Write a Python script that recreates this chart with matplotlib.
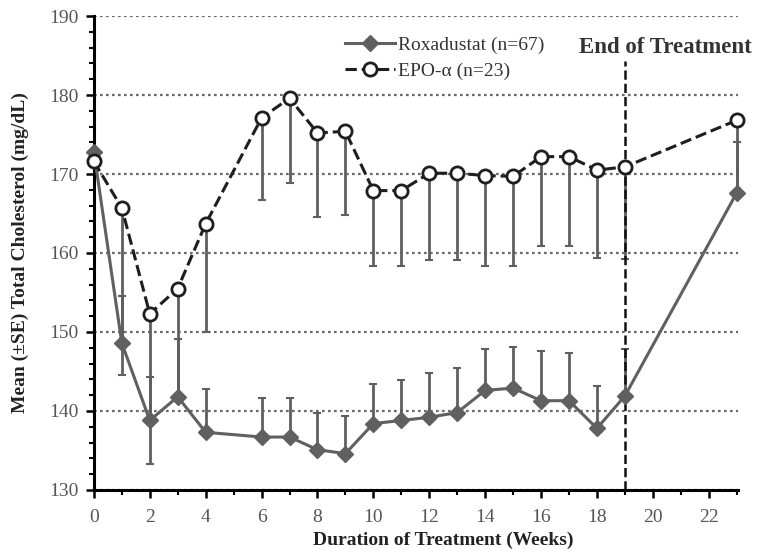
import numpy as np
import matplotlib
matplotlib.use("Agg")
import matplotlib.pyplot as plt
from matplotlib.ticker import MultipleLocator

# =========================
# Data
# =========================
weeks = [0, 1, 2, 3, 4, 6, 7, 8, 9, 10, 11, 12, 13, 14, 15, 16, 17, 18, 19, 23]

roxa_mean = [172.8, 148.6, 138.8, 141.8, 137.3, 136.7, 136.7, 135.1, 134.6, 138.4,
             138.8, 139.2, 139.8, 142.6, 142.9, 141.3, 141.3, 137.8, 141.9, 167.6]
roxa_upper = [172.8, 154.6, 144.3, 149.1, 142.8, 141.7, 141.7, 139.8, 139.4, 143.4,
              143.9, 144.8, 145.5, 147.8, 148.1, 147.6, 147.4, 143.2, 147.8, 174.0]

epo_mean = [171.6, 165.7, 152.3, 155.5, 163.7, 177.1, 179.6, 175.2, 175.4, 167.9,
            167.9, 170.1, 170.1, 169.8, 169.7, 172.2, 172.2, 170.5, 170.9, 176.8]
epo_lower = [171.6, 144.5, 133.3, 141.5, 150.0, 166.7, 168.9, 164.5, 164.8, 158.3,
             158.3, 159.1, 159.1, 158.3, 158.3, 160.9, 160.9, 159.4, 159.3, 167.0]

end_week = 19

# =========================
# Plot
# =========================
plt.rcParams['font.family'] = ['Liberation Serif', 'DejaVu Serif']

fig = plt.figure(figsize=(7.57, 5.53), dpi=100)
ax = fig.add_axes([0.124, 0.114, 0.851, 0.857])

roxa_mean = np.array(roxa_mean)
epo_mean = np.array(epo_mean)
roxa_err = [np.zeros_like(roxa_mean), np.array(roxa_upper) - roxa_mean]
epo_err = [epo_mean - np.array(epo_lower), np.zeros_like(epo_mean)]

bar_col = "#5f5f5f"

ax.errorbar(weeks, epo_mean, yerr=epo_err, fmt='none', ecolor=bar_col,
            elinewidth=2, capsize=3, capthick=1.5, zorder=2, clip_on=False)
ax.errorbar(weeks, roxa_mean, yerr=roxa_err, fmt='none', ecolor=bar_col,
            elinewidth=2, capsize=3, capthick=1.5, zorder=2, clip_on=False)

ax.plot(weeks, roxa_mean, '-D', color="#606060", lw=2.2, ms=8.5,
        label="Roxadustat (n=67)", zorder=4, clip_on=False)
ax.plot(weeks, epo_mean, '--o', color="#1e1e1e", lw=2.2, ms=9.5,
        mfc="white", mec="#1e1e1e", mew=2,
        label="EPO-\u03b1 (n=23)", zorder=5, clip_on=False)

# end of treatment marker
ax.plot([end_week, end_week], [130, 184.3], '--', color="#111111", lw=1.8, zorder=3)
ax.text(20.45, 186.0, "End of Treatment", ha='center', va='center',
        fontsize=16.5, fontweight='bold', color="#333333")

ax.set_xlim(0, 23.05)
ax.set_ylim(130, 190)
ax.xaxis.set_major_locator(MultipleLocator(2))
ax.xaxis.set_minor_locator(MultipleLocator(1))
ax.yaxis.set_major_locator(MultipleLocator(10))
ax.yaxis.set_minor_locator(MultipleLocator(2))

ax.grid(axis='y', which='major', linestyle=(0, (1.2, 1.5)), color="#6a6a6a", lw=1.6)
ax.set_axisbelow(True)

for s in ['top', 'right']:
    ax.spines[s].set_visible(False)
for s in ['left', 'bottom']:
    ax.spines[s].set_linewidth(2.2)
    ax.spines[s].set_color("black")

ax.tick_params(which='major', direction='out', length=6, width=1.8,
               labelsize=14, labelcolor="#555555", pad=5)
ax.tick_params(axis='x', which='major', pad=8)
ax.tick_params(which='minor', direction='out', length=3.5, width=1.5)

ax.set_xlabel("Duration of Treatment (Weeks)", fontsize=14, fontweight='bold',
              color="#222222")
ax.xaxis.set_label_coords(0.542, -0.088)
ax.set_ylabel("Mean (\u00b1SE) Total Cholesterol (mg/dL)", fontsize=14,
              fontweight='bold', color="#222222")
ax.yaxis.set_label_coords(-0.1, 0.5)

ax.legend(loc='upper left', bbox_to_anchor=(0.362, 0.995), frameon=False,
          fontsize=14, handlelength=2.6, handletextpad=0.15, labelspacing=0.45,
          labelcolor="#333333")

plt.savefig("out.png", dpi=100)
plt.close()
